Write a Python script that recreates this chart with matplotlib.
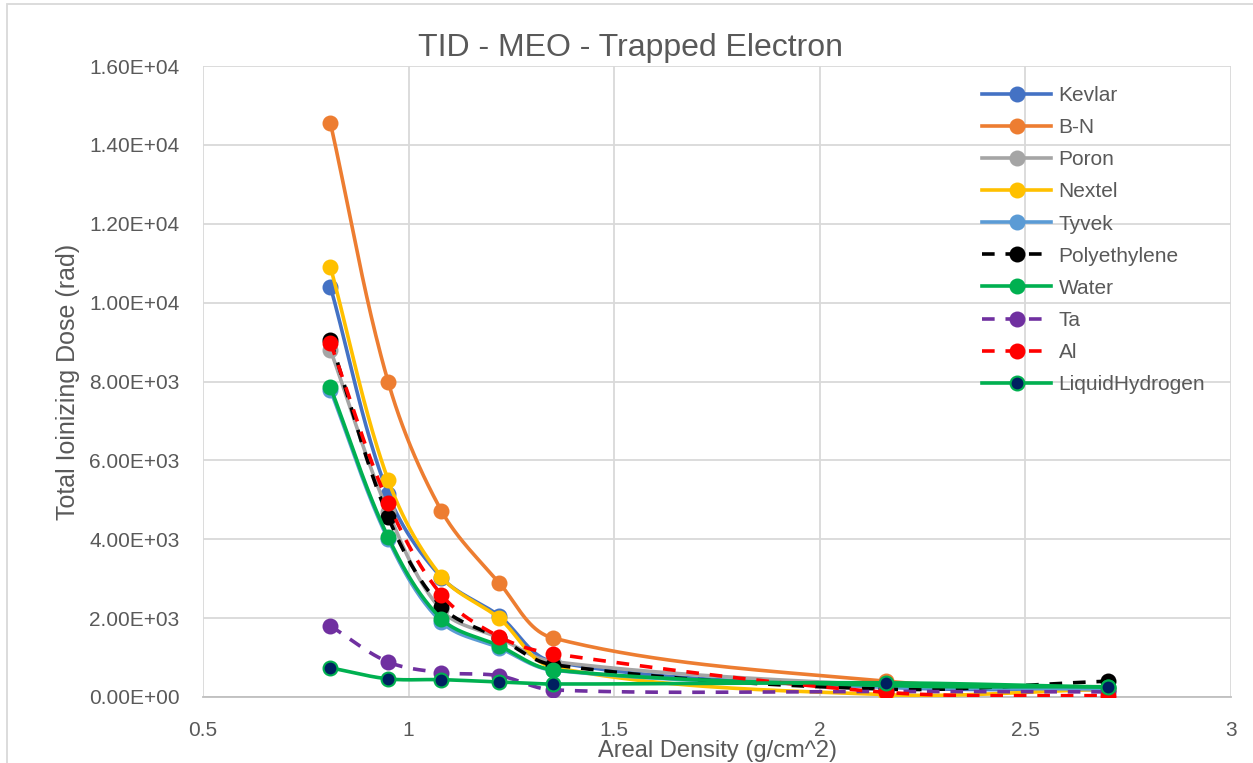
import matplotlib
matplotlib.use('Agg')
import matplotlib.pyplot as plt
import numpy as np
from matplotlib.patches import Rectangle

# areal density (g/cm^2)
density = [0.81, 0.95, 1.08, 1.22, 1.35, 2.16, 2.70]

# total ionizing dose (rad) per shielding material
kevlar = [10400, 5150, 3030, 2060, 900, 250, 180]
bn = [14550, 8000, 4720, 2900, 1500, 400, 200]
poron = [8800, 4700, 2200, 1500, 900, 300, 200]
nextel = [10900, 5510, 3050, 2000, 760, 60, 200]
tyvek = [7780, 4000, 1900, 1250, 680, 260, 200]
polyethylene = [9050, 4570, 2290, 1500, 820, 200, 400]
water = [7850, 4060, 1980, 1300, 690, 290, 260]
ta = [1800, 890, 620, 540, 180, 140, 130]
al = [8980, 4930, 2590, 1530, 1100, 120, 30]
liquid_hydrogen = [740, 460, 440, 380, 330, 360, 250]

names = ['Kevlar', 'B-N', 'Poron', 'Nextel', 'Tyvek', 'Polyethylene', 'Water',
         'Ta', 'Al', 'LiquidHydrogen']
series = [kevlar, bn, poron, nextel, tyvek, polyethylene, water, ta, al, liquid_hydrogen]
colors = ['#4472C4', '#ED7D31', '#A5A5A5', '#FFC000', '#5B9BD5', '#000000', '#00B050',
          '#7030A0', '#FF0000', '#00B050']
dashed = [False, False, False, False, False, True, False, True, True, False]

plt.rcParams['font.family'] = ['Liberation Sans', 'DejaVu Sans']
text_color = '#595959'

# pixel scale of the axes, used so the curve is smoothed in screen space
SX, SY = 411.0, 630.0 / 16000


def smooth(x, y, n=40):
    # cubic bezier through the points, tangents scaled by neighbouring chord lengths
    p = np.column_stack([np.asarray(x, float) * SX, np.asarray(y, float) * SY])
    m = len(p)
    tang = np.zeros_like(p)
    for i in range(m):
        a = p[max(i - 1, 0)]
        b = p[min(i + 1, m - 1)]
        tang[i] = b - a
    t = np.linspace(0, 1, n)[:, None]
    out = []
    for i in range(m - 1):
        p0, p3 = p[i], p[i + 1]
        chord = np.linalg.norm(p3 - p0)
        d0 = tang[i] / (np.linalg.norm(tang[i]) + 1e-9)
        d1 = tang[i + 1] / (np.linalg.norm(tang[i + 1]) + 1e-9)
        p1 = p0 + d0 * chord / 3
        p2 = p3 - d1 * chord / 3
        seg = ((1 - t) ** 3) * p0 + 3 * ((1 - t) ** 2) * t * p1 + 3 * (1 - t) * t ** 2 * p2 + t ** 3 * p3
        out.append(seg)
    out = np.vstack(out)
    return out[:, 0] / SX, out[:, 1] / SY


fig = plt.figure(figsize=(12.53, 7.63), dpi=100)
ax = fig.add_axes([203 / 1253, 66 / 763, 1028 / 1253, 631 / 763])

handles = []
for name, vals, c, d in zip(names, series, colors, dashed):
    sx, sy = smooth(density, vals)
    ls = (0, (3.5, 3)) if d else '-'
    ax.plot(sx, sy, color=c, lw=2.6, ls=ls, zorder=3)
    mfc = '#002060' if name == 'LiquidHydrogen' else c
    ax.plot(density, vals, ls='none', marker='o', ms=10, mfc=mfc, mec=c, mew=1.5, zorder=3)
    h, = ax.plot([], [], color=c, lw=2.6, ls=ls, marker='o', ms=10, mfc=mfc, mec=c, mew=1.5)
    handles.append(h)

yticks = np.arange(0, 16001, 2000)
ax.set_xlim(0.5, 3)
ax.set_ylim(0, 16000)
ax.set_xticks(np.arange(0.5, 3.01, 0.5))
ax.set_xticklabels(['0.5', '1', '1.5', '2', '2.5', '3'])
ax.set_yticks(yticks)
ax.set_yticklabels(['%.2fE+%02d' % (v / 10 ** 4, 4) if v >= 10000 else
                    ('%.2fE+%02d' % (v / 10 ** 3, 3) if v else '0.00E+00') for v in yticks])
ax.grid(True, color='#D9D9D9', lw=1.3, zorder=0)
ax.set_axisbelow(True)
for s in ['left', 'right', 'top']:
    ax.spines[s].set_visible(False)
ax.spines['bottom'].set_color('#BFBFBF')
ax.spines['bottom'].set_linewidth(1.3)
ax.tick_params(length=0, labelsize=15, labelcolor=text_color)
ax.tick_params(axis='x', pad=17)
ax.tick_params(axis='y', pad=17)

fig.text(630 / 1253, 1 - 48 / 763, 'TID - MEO - Trapped Electron', fontsize=23, color=text_color,
         ha='center', va='center')
ax.set_xlabel('Areal Density (g/cm^2)', fontsize=17, color=text_color, labelpad=0)
ax.set_ylabel('Total Ioinizing Dose (rad)', fontsize=18, color=text_color, labelpad=6)

leg = ax.legend(handles, names, loc='upper left', bbox_to_anchor=(0.74, 0.998), frameon=False,
                fontsize=15, handlelength=3.3, labelspacing=0.63, handletextpad=0.35)
for t in leg.get_texts():
    t.set_color(text_color)

fig.patches.append(Rectangle((7 / 1253, -0.1), 1.2, (763 - 4) / 763 + 0.1, transform=fig.transFigure,
                             fill=False, ec='#D9D9D9', lw=1.3))

fig.savefig('out.png', dpi=100)
